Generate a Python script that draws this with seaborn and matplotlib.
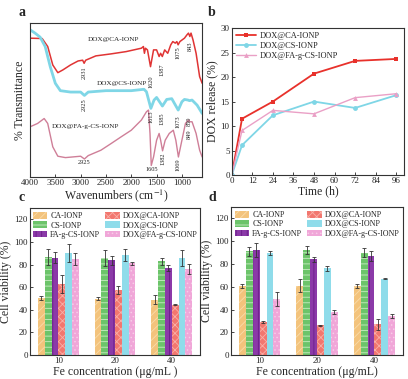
import numpy as np
import pandas as pd
import matplotlib.pyplot as plt
import seaborn as sns

# ---------- a: FTIR ----------
wn_ca = [4000, 3760, 3650, 3550, 3450, 3350, 3200, 3050, 2960, 2931, 2900, 2700, 2400, 2100,
         1800, 1760, 1740, 1720, 1680, 1620, 1560, 1500, 1450, 1420, 1387, 1340, 1280, 1220,
         1180, 1130, 1100, 1075, 1040, 1000, 950, 900, 870, 843, 820, 780, 720, 650, 600]
tr_ca = [90.2, 90.0, 84.8, 72.8, 67.8, 69.6, 72.8, 75.4, 75.9, 73.9, 75.9, 78.7, 80.0, 81.5,
         83.7, 84.8, 80.4, 83.7, 82.6, 71.7, 82.6, 82.6, 78.3, 80.4, 78.3, 82.6, 80.4, 85.9,
         88.0, 87.0, 88.0, 85.9, 88.0, 89.0, 90.2, 92.4, 93.5, 91.3, 93.5, 89.0, 80.4, 65.2, 60.9]

wn_cs = [4000, 3900, 3800, 3700, 3600, 3500, 3400, 3200, 3000, 2925, 2850, 2500, 2000, 1750,
         1700, 1613, 1550, 1500, 1385, 1300, 1200, 1073, 1000, 950, 880, 850, 800, 700, 600]
tr_cs = [95.7, 93.5, 90.9, 84.8, 71.7, 60.9, 56.1, 55.2, 55.2, 53.0, 55.2, 56.1, 56.1, 57.0,
         55.4, 44.6, 50.0, 51.7, 46.1, 50.4, 50.9, 43.5, 48.9, 50.4, 50.0, 49.6, 50.0, 46.7, 41.3]

wn_fa = [4000, 3850, 3720, 3650, 3550, 3450, 3300, 3000, 2925, 2850, 2600, 2400, 2200, 2000,
         1800, 1700, 1660, 1630, 1605, 1560, 1500, 1450, 1420, 1382, 1330, 1250, 1170, 1120,
         1069, 1000, 930, 870, 849, 800, 720, 650, 600]
tr_fa = [32.6, 34.8, 38.0, 34.8, 19.6, 13.5, 12.6, 13.5, 11.7, 13.9, 17.4, 21.7, 26.1, 30.4,
         37.0, 42.4, 43.5, 28.3, 7.5, 13.0, 23.9, 28.3, 23.9, 17.0, 23.9, 28.3, 30.4, 23.9,
         13.0, 23.9, 34.8, 37.0, 35.9, 35.9, 28.3, 17.4, 13.0]

# peak labels: (text, wavenumber, top y, rotation)
peaks_ca = [("2931", 2931, 72, 90), ("1620", 1620, 66, 90), ("1387", 1387, 74, 90),
            ("1075", 1075, 85, 90), ("843", 843, 88, 90)]
peaks_cs = [("2925", 2925, 51, 90), ("1613", 1613, 43, 90), ("1385", 1385, 42, 90),
            ("1073", 1073, 40, 90), ("850", 850, 39, 90)]
peaks_fa = [("2925", 2925, 11, 0), ("1605", 1605, 6.5, 0), ("1382", 1382, 16, 90),
            ("1069", 1069, 12, 90), ("849", 849, 31, 90)]

# ---------- b: release ----------
time_h = [0, 6, 24, 48, 72, 96]
rel_ca = [0, 11.5, 15.0, 20.7, 23.3, 23.7]
rel_cs = [0, 6.1, 12.2, 15.0, 13.7, 16.3]
rel_fa = [0, 9.1, 13.2, 12.5, 15.8, 16.6]

# ---------- c / d: viability ----------
conc = ["10", "20", "40"]
samples = ["CA-IONP", "CS-IONP", "FA-g-CS-IONP", "DOX@CA-IONP", "DOX@CS-IONP", "DOX@FA-g-CS-IONP"]
mean_c = [[50.5, 50.0, 49.0], [87.0, 85.5, 83.0], [86.0, 84.0, 77.0],
          [63.0, 57.5, 44.5], [90.5, 88.5, 86.0], [85.0, 81.0, 76.0]]
err_c = [[2.0, 1.5, 4.0], [7.0, 7.0, 3.0], [5.0, 4.0, 3.0],
         [8.0, 3.5, 0.5], [8.0, 5.0, 7.0], [5.0, 1.0, 4.5]]
mean_d = [[60.5, 61.0, 60.5], [91.0, 92.0, 90.0], [92.5, 84.0, 87.0],
          [29.0, 26.0, 27.0], [89.5, 76.0, 67.0], [49.5, 38.0, 34.5]]
err_d = [[1.5, 6.0, 2.0], [4.0, 3.5, 4.0], [6.0, 2.0, 4.0],
         [0.5, 0.5, 5.0], [2.0, 2.5, 0.5], [6.0, 2.0, 2.0]]

bar_colors = ["#f3c37c", "#6cc46a", "#8b3aa8", "#f2776f", "#8fdcea", "#f0a6d8"]
hatch_colors = ["#f9dcaa", "#c9ecc4", "#6a1c88", "#f9b0a8", "#8fdcea", "#f8cce8"]
hatches = ["////", "---", "|||", "xxxx", "", "...."]

sns.set_style("ticks")
plt.rcParams["font.family"] = ["Liberation Serif", "DejaVu Serif"]
plt.rcParams["mathtext.fontset"] = "stix"
plt.rcParams["hatch.linewidth"] = 0.6
plt.rcParams["axes.edgecolor"] = "#333333"

fig = plt.figure(figsize=(4.08, 3.79), dpi=100)
ax_a = fig.add_axes([0.0735, 0.533, 0.422, 0.406])
ax_b = fig.add_axes([0.568, 0.538, 0.422, 0.388])
ax_c = fig.add_axes([0.0735, 0.063, 0.417, 0.388])
ax_d = fig.add_axes([0.566, 0.063, 0.422, 0.391])

tick_fs = 6.5
lab_fs = 8.5

# ---------- a ----------
sns.lineplot(x=wn_ca, y=tr_ca, ax=ax_a, color="#e03434", linewidth=1.1, sort=False)
sns.lineplot(x=wn_cs, y=tr_cs, ax=ax_a, color="#7fd6e6", linewidth=2.0, sort=False)
sns.lineplot(x=wn_fa, y=tr_fa, ax=ax_a, color="#cf7f98", linewidth=1.0, sort=False)
ax_a.set_xlim(4000, 600)
ax_a.set_ylim(0, 100)
ax_a.set_xticks([4000, 3500, 3000, 2500, 2000, 1500, 1000])
ax_a.set_yticks([])
for peaks in (peaks_ca, peaks_cs, peaks_fa):
    for txt, w, y, rot in peaks:
        ax_a.text(w, y, txt, rotation=rot, ha="center", va="top", fontsize=4.6)
ax_a.text(2356, 89.6, "DOX@CA-IONP", ha="center", va="center", fontsize=5.2)
ax_a.text(2185, 61, "DOX@CS-IONP", ha="center", va="center", fontsize=5.2)
ax_a.text(2904, 33, "DOX@FA-g-CS-IONP", ha="center", va="center", fontsize=5.2)
ax_a.set_xlabel("Wavenumbers (cm$^{-1}$)", fontsize=lab_fs, labelpad=0)
ax_a.set_ylabel("% Transmittance", fontsize=lab_fs, labelpad=3)

# ---------- b ----------
sns.lineplot(x=time_h, y=rel_ca, ax=ax_b, color="#e8312b", marker="s", markersize=3.5,
             markeredgewidth=0, linewidth=1.3, label="DOX@CA-IONP")
sns.lineplot(x=time_h, y=rel_cs, ax=ax_b, color="#7fd6e6", marker="o", markersize=3.5,
             markeredgewidth=0, linewidth=1.3, label="DOX@CS-IONP")
sns.lineplot(x=time_h, y=rel_fa, ax=ax_b, color="#eaa0c6", marker="^", markersize=3.5,
             markeredgewidth=0, linewidth=1.0, label="DOX@FA-g-CS-IONP")
ax_b.set_xlim(0, 100.5)
ax_b.set_ylim(0, 30)
ax_b.set_xticks(range(0, 97, 12))
ax_b.set_yticks(range(0, 31, 5))
ax_b.legend(loc="upper left", frameon=False, fontsize=6, handlelength=2.4,
            borderaxespad=0.1, labelspacing=0.2, handletextpad=0.4)
ax_b.set_xlabel("Time (h)", fontsize=lab_fs, labelpad=0)
ax_b.set_ylabel("DOX release (%)", fontsize=lab_fs, labelpad=2)


def viability(ax, means, errs, xlabel):
    rows = []
    for s, m in zip(samples, means):
        for c, v in zip(conc, m):
            rows.append({"conc": c, "sample": s, "value": v})
    df = pd.DataFrame(rows)
    sns.barplot(data=df, x="conc", y="value", hue="sample", hue_order=samples,
                palette=bar_colors, saturation=1, width=0.72, errorbar=None, ax=ax)
    bars = list(ax.containers)
    for i, cont in enumerate(bars):
        xs = []
        for bar in cont.patches:
            bar.set_hatch(hatches[i])
            bar.set_edgecolor(hatch_colors[i])
            bar.set_linewidth(0)
            xs.append(bar.get_x() + bar.get_width() / 2)
        ax.errorbar(xs, means[i], yerr=errs[i], fmt="none", ecolor="#333333",
                    elinewidth=0.6, capsize=1.2, capthick=0.6)
    ax.legend(bars, samples, ncol=2, loc="upper center", frameon=False,
              fontsize=5.8, handlelength=1.8, handleheight=0.9, columnspacing=0.6,
              labelspacing=0.15, handletextpad=0.4, borderaxespad=0.1)
    ax.set_ylim(0, 130)
    ax.set_yticks(range(0, 121, 20))
    ax.set_xlim(-0.5, 2.5)
    ax.set_xlabel(xlabel, fontsize=lab_fs, labelpad=0.5)
    ax.set_ylabel("Cell viability (%)", fontsize=lab_fs, labelpad=2)


viability(ax_c, mean_c, err_c, "Fe concentration (μg/mL )")
viability(ax_d, mean_d, err_d, "Fe concentration (μg/mL)")

for ax in (ax_a, ax_b, ax_c, ax_d):
    ax.tick_params(direction="in", labelsize=tick_fs, length=2.5, width=0.6, pad=1.5)
    for sp in ax.spines.values():
        sp.set_linewidth(0.8)

for txt, x, y in [("a", 0.045, 0.985), ("b", 0.51, 0.985), ("c", 0.045, 0.495), ("d", 0.51, 0.495)]:
    fig.text(x, y, txt, fontsize=10, fontweight="bold", va="top")

fig.savefig("out.png", dpi=100)
